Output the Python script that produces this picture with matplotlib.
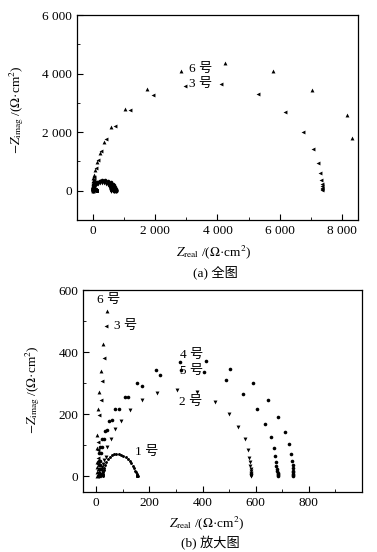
import matplotlib
matplotlib.use('Agg')
import matplotlib.pyplot as plt
from matplotlib.ticker import MultipleLocator, FuncFormatter

plt.rcParams['font.family'] = ['Liberation Serif', 'Noto Sans CJK SC']
plt.rcParams['mathtext.fontset'] = 'stix'

# sample 1
x1 = [24, 25, 26, 27, 28, 30, 33, 37, 43, 50, 58, 66, 75, 84, 93, 102, 110,
      118, 125, 132, 138, 143, 147, 150, 152, 153, 154, 155, 155, 156]
y1 = [1, 4, 8, 14, 20, 26, 36, 47, 56, 63, 68, 71, 72, 71, 69, 66, 62,
      56, 49, 42, 34, 26, 19, 13, 8, 5, 3, 2, 1, 0]
# sample 2
x2 = [18, 19, 20, 21, 22, 24, 28, 36, 41, 55, 70, 92, 126, 172, 229, 304,
      380, 445, 498, 535, 558, 570, 576, 578, 580, 581, 582, 583, 583, 584,
      584, 584]
y2 = [3, 9, 16, 24, 32, 40, 52, 64, 95, 122, 152, 180, 214, 245, 268, 279,
      271, 241, 200, 158, 119, 84, 61, 45, 33, 25, 18, 12, 8, 5, 3, 1]
# sample 3
x3 = [5, 5, 6, 6, 7, 8, 11, 18, 22, 29, 36, 95, 160, 266, 426, 726, 1205,
      1931, 2944, 4117, 5291, 6176, 6752, 7072, 7221, 7285, 7328, 7339, 7340,
      7340, 7340, 7340]
y3 = [5, 20, 40, 60, 85, 110, 198, 245, 306, 382, 483, 780, 1051, 1366,
      1752, 2213, 2746, 3254, 3593, 3650, 3311, 2689, 2011, 1412, 938, 599,
      373, 226, 150, 90, 45, 11]
# sample 4
x4 = [9, 9, 9, 10, 10, 12, 14, 20, 32, 49, 72, 107, 154, 224, 314, 411, 505,
      588, 648, 685, 710, 725, 733, 738, 740, 741, 741, 742, 742, 742, 742]
y4 = [3, 12, 25, 38, 50, 74, 95, 122, 146, 180, 216, 257, 301, 342, 368, 371,
      346, 302, 247, 190, 142, 103, 71, 50, 36, 26, 19, 13, 8, 4, 1]
# sample 5
x5 = [12, 12, 13, 13, 14, 16, 20, 29, 41, 59, 85, 118, 171, 239, 320, 404,
      488, 554, 603, 636, 657, 669, 673, 675, 678, 680, 681, 682, 682, 683,
      683]
y5 = [3, 12, 25, 38, 50, 74, 95, 122, 149, 182, 216, 256, 292, 325, 342, 335,
      309, 265, 218, 169, 128, 93, 66, 46, 34, 25, 18, 12, 8, 4, 1]
# sample 6
x6 = [2, 3, 3, 3, 4, 4, 5, 10, 16, 26, 39, 70, 128, 224, 352, 584, 1024,
      1739, 2816, 4256, 5771, 7019, 8149, 8299]
y6 = [3, 15, 30, 45, 90, 135, 218, 272, 339, 425, 531, 700, 973, 1298, 1671,
      2180, 2802, 3480, 4079, 4350, 4102, 3424, 2576, 1785]

series = [(x1, y1, 'o', 2.1), (x2, y2, 'v', 2.8), (x3, y3, '<', 2.8),
          (x4, y4, 'o', 2.6), (x5, y5, 'o', 2.6), (x6, y6, '^', 2.8)]


def thousands(v, pos):
    return '{:,.0f}'.format(v).replace(',', ' ')


def draw(ax):
    for xs, ys, m, ms in series:
        ax.plot(xs, ys, linestyle='none', marker=m, ms=ms, color='black',
                markeredgewidth=0)
    ax.tick_params(which='both', direction='in', labelsize=9.5, top=False,
                   right=False)
    ax.tick_params(which='major', length=4, width=0.8)
    ax.tick_params(which='minor', length=2, width=0.6)
    for s in ax.spines.values():
        s.set_linewidth(0.9)


fig = plt.figure(figsize=(3.77, 5.52), dpi=100)

ax1 = fig.add_axes([0.2042, 0.6014, 0.7454, 0.3714])
draw(ax1)
ax1.set_xlim(-500, 8500)
ax1.set_ylim(-1000, 6000)
ax1.xaxis.set_major_locator(MultipleLocator(2000))
ax1.xaxis.set_minor_locator(MultipleLocator(1000))
ax1.yaxis.set_major_locator(MultipleLocator(2000))
ax1.yaxis.set_minor_locator(MultipleLocator(1000))
ax1.xaxis.set_major_formatter(FuncFormatter(thousands))
ax1.yaxis.set_major_formatter(FuncFormatter(thousands))
ax1.text(3100, 4170, '6 号', fontsize=9.5, va='center')
ax1.text(3100, 3660, '3 号', fontsize=9.5, va='center')

ax2 = fig.add_axes([0.2202, 0.1087, 0.7400, 0.3659])
draw(ax2)
ax2.set_xlim(-50, 1000)
ax2.set_ylim(-50, 600)
ax2.xaxis.set_major_locator(MultipleLocator(200))
ax2.xaxis.set_minor_locator(MultipleLocator(100))
ax2.yaxis.set_major_locator(MultipleLocator(200))
ax2.yaxis.set_minor_locator(MultipleLocator(100))
ax2.set_xticks([0, 200, 400, 600, 800])
for txt, tx, ty in [('6 号', 4, 569), ('3 号', 65, 485), ('4 号', 314, 390),
                    ('5 号', 314, 339), ('2 号', 311, 241), ('1 号', 146, 79)]:
    ax2.text(tx, ty, txt, fontsize=9.5, va='center')

ylab = r'$-Z_{\mathrm{imag}}$ /($\Omega$·cm$^2$)'
xlab = r'$Z_{\mathrm{real}}$ /($\Omega$·cm$^2$)'
fig.text(17 / 377, 1 - 110 / 552, ylab, rotation=90, ha='center',
         va='center', fontsize=9.5)
fig.text(214 / 377, 1 - 252 / 552, xlab, ha='center', va='center',
         fontsize=9.5)
fig.text(215 / 377, 1 - 272 / 552, '(a) 全图', ha='center', va='center',
         fontsize=9.5)
fig.text(33 / 377, 1 - 390 / 552, ylab, rotation=90, ha='center',
         va='center', fontsize=9.5)
fig.text(207 / 377, 1 - 523 / 552, xlab, ha='center', va='center',
         fontsize=9.5)
fig.text(210 / 377, 1 - 543 / 552, '(b) 放大图', ha='center', va='center',
         fontsize=9.5)

fig.savefig('out.png', dpi=100)
